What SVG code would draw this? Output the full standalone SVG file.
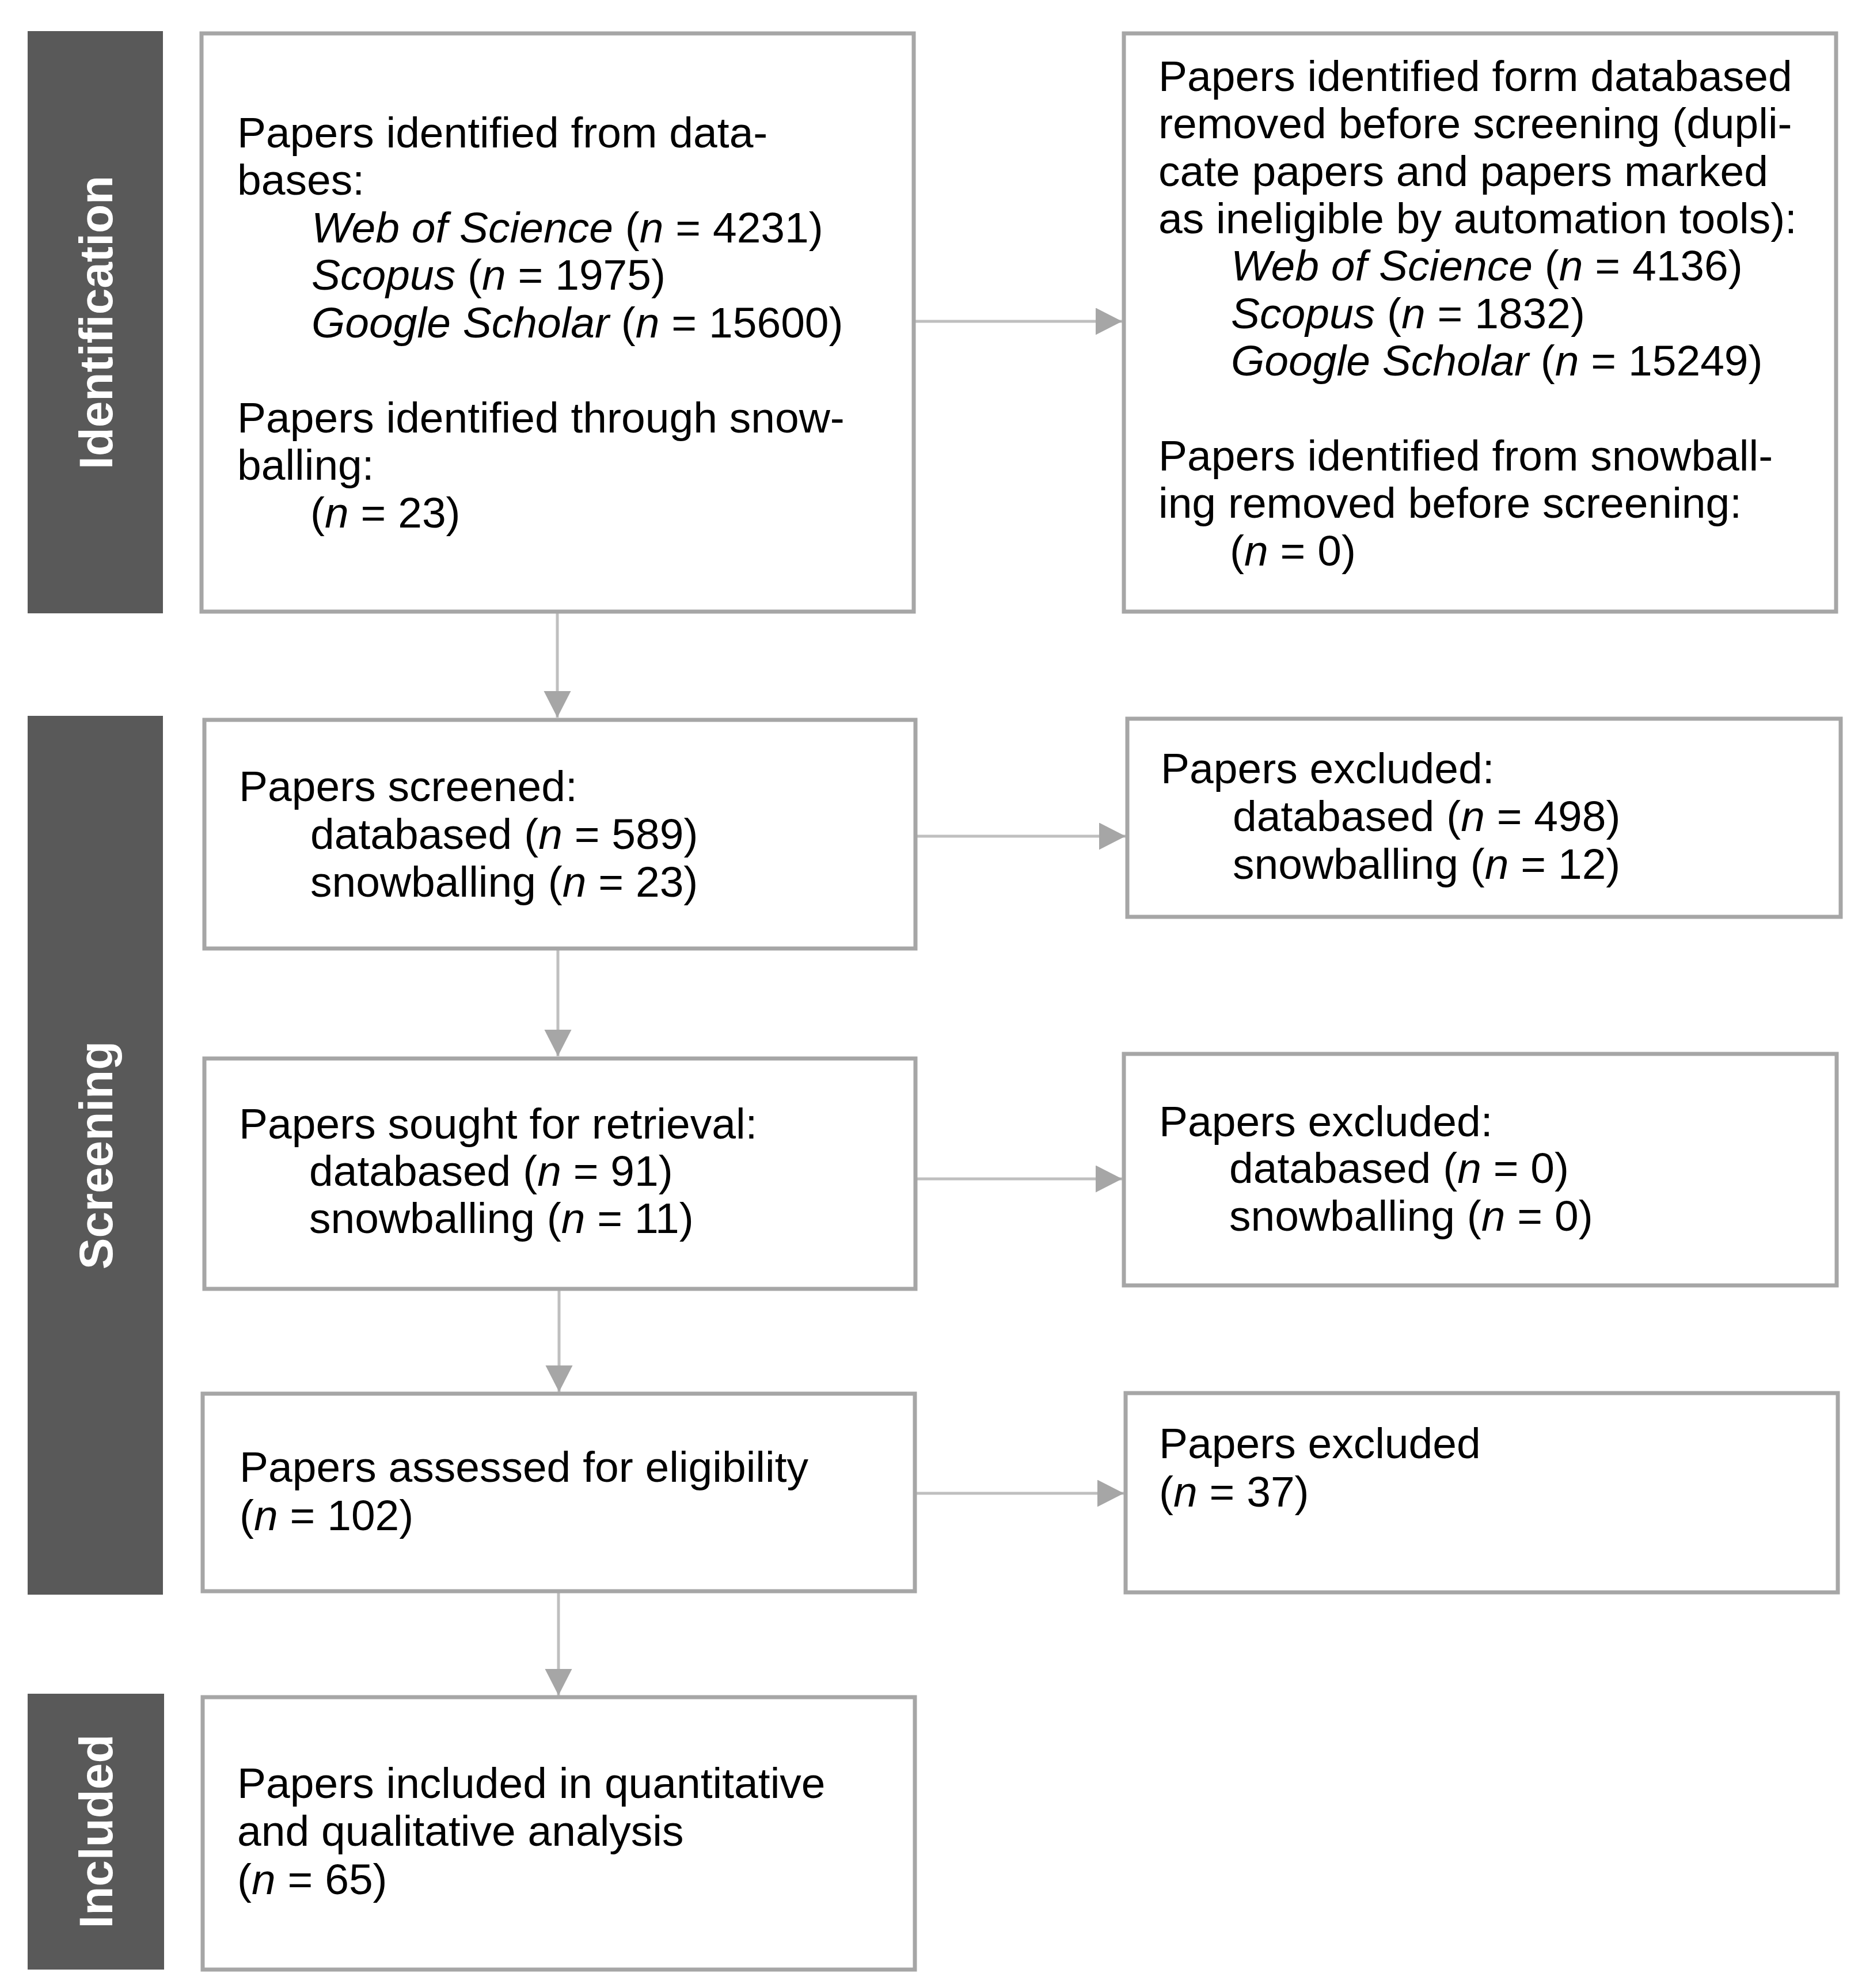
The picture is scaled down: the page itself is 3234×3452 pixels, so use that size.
<svg xmlns="http://www.w3.org/2000/svg" width="3234" height="3452" viewBox="0 0 3234 3452">
<style>
.bar{fill:#595959}
.lbl{font-family:"Liberation Sans",Arial,sans-serif;font-weight:bold;font-size:82px;fill:#ffffff;text-anchor:middle}
.box{fill:#ffffff;stroke:#a6a6a6;stroke-width:7}
.t{font-family:"Liberation Sans",Arial,sans-serif;font-size:75px;fill:#000000}
.i{font-style:italic}
.conn{stroke:#bfbfbf;stroke-width:5;fill:none}
</style>
<defs>
<marker id="ah" markerUnits="userSpaceOnUse" markerWidth="47" markerHeight="48" refX="46" refY="23.5" orient="auto">
<path d="M0,0 L46,23.5 L0,47 z" fill="#a6a6a6"/>
</marker>
</defs>
<rect width="3234" height="3452" fill="#ffffff"/>

<g id="phase-identification">
<rect class="bar" x="48" y="54" width="235" height="1011"/>
<text class="lbl" transform="translate(195,560) rotate(-90)">Identification</text>
</g>
<g id="phase-screening">
<rect class="bar" x="48" y="1243" width="235" height="1526"/>
<text class="lbl" transform="translate(195,2006) rotate(-90)">Screening</text>
</g>
<g id="phase-included">
<rect class="bar" x="48" y="2941" width="237" height="479"/>
<text class="lbl" transform="translate(195,3180) rotate(-90)">Included</text>
</g>

<g id="connectors">
<line class="conn" x1="1587" y1="558" x2="1949" y2="558" marker-end="url(#ah)"/>
<line class="conn" x1="968" y1="1062" x2="968" y2="1246" marker-end="url(#ah)"/>
<line class="conn" x1="1590" y1="1452" x2="1955" y2="1452" marker-end="url(#ah)"/>
<line class="conn" x1="969" y1="1647" x2="969" y2="1834" marker-end="url(#ah)"/>
<line class="conn" x1="1590" y1="2047" x2="1949" y2="2047" marker-end="url(#ah)"/>
<line class="conn" x1="971" y1="2238" x2="971" y2="2417" marker-end="url(#ah)"/>
<line class="conn" x1="1589" y1="2593" x2="1952" y2="2593" marker-end="url(#ah)"/>
<line class="conn" x1="970" y1="2763" x2="970" y2="2944" marker-end="url(#ah)"/>
</g>

<g id="identified">
<rect class="box" x="350" y="58" width="1237" height="1004"/>
<text class="t" x="412" y="256">Papers identified from data-</text>
<text class="t" x="412" y="338">bases:</text>
<text class="t" x="541" y="421"><tspan class="i">Web of Science</tspan> (<tspan class="i">n</tspan> = 4231)</text>
<text class="t" x="541" y="503"><tspan class="i">Scopus</tspan> (<tspan class="i">n</tspan> = 1975)</text>
<text class="t" x="541" y="586"><tspan class="i">Google Scholar</tspan> (<tspan class="i">n</tspan> = 15600)</text>
<text class="t" x="412" y="751">Papers identified through snow-</text>
<text class="t" x="412" y="833">balling:</text>
<text class="t" x="539" y="916">(<tspan class="i">n</tspan> = 23)</text>
</g>

<g id="removed">
<rect class="box" x="1952" y="58" width="1237" height="1004"/>
<text class="t" x="2012" y="158">Papers identified form databased</text>
<text class="t" x="2012" y="240">removed before screening (dupli-</text>
<text class="t" x="2012" y="323">cate papers and papers marked</text>
<text class="t" x="2012" y="405">as ineligible by automation tools):</text>
<text class="t" x="2138" y="487"><tspan class="i">Web of Science</tspan> (<tspan class="i">n</tspan> = 4136)</text>
<text class="t" x="2138" y="570"><tspan class="i">Scopus</tspan> (<tspan class="i">n</tspan> = 1832)</text>
<text class="t" x="2138" y="652"><tspan class="i">Google Scholar</tspan> (<tspan class="i">n</tspan> = 15249)</text>
<text class="t" x="2012" y="817">Papers identified from snowball-</text>
<text class="t" x="2012" y="899">ing removed before screening:</text>
<text class="t" x="2136" y="982">(<tspan class="i">n</tspan> = 0)</text>
</g>

<g id="screened">
<rect class="box" x="355" y="1250" width="1235" height="397"/>
<text class="t" x="415" y="1391">Papers screened:</text>
<text class="t" x="539" y="1474">databased (<tspan class="i">n</tspan> = 589)</text>
<text class="t" x="539" y="1557">snowballing (<tspan class="i">n</tspan> = 23)</text>
</g>

<g id="excluded-screening">
<rect class="box" x="1958" y="1248" width="1239" height="344"/>
<text class="t" x="2016" y="1360">Papers excluded:</text>
<text class="t" x="2141" y="1443">databased (<tspan class="i">n</tspan> = 498)</text>
<text class="t" x="2141" y="1526">snowballing (<tspan class="i">n</tspan> = 12)</text>
</g>

<g id="sought">
<rect class="box" x="355" y="1838" width="1235" height="400"/>
<text class="t" x="415" y="1977">Papers sought for retrieval:</text>
<text class="t" x="537" y="2059">databased (<tspan class="i">n</tspan> = 91)</text>
<text class="t" x="537" y="2141">snowballing (<tspan class="i">n</tspan> = 11)</text>
</g>

<g id="excluded-retrieval">
<rect class="box" x="1952" y="1830" width="1238" height="402"/>
<text class="t" x="2013" y="1973">Papers excluded:</text>
<text class="t" x="2135" y="2054">databased (<tspan class="i">n</tspan> = 0)</text>
<text class="t" x="2135" y="2137">snowballing (<tspan class="i">n</tspan> = 0)</text>
</g>

<g id="assessed">
<rect class="box" x="352" y="2420" width="1237" height="343"/>
<text class="t" x="416" y="2573">Papers assessed for eligibility</text>
<text class="t" x="416" y="2657">(<tspan class="i">n</tspan> = 102)</text>
</g>

<g id="excluded-eligibility">
<rect class="box" x="1955" y="2419" width="1237" height="346"/>
<text class="t" x="2013" y="2532">Papers excluded</text>
<text class="t" x="2013" y="2616">(<tspan class="i">n</tspan> = 37)</text>
</g>

<g id="included">
<rect class="box" x="352" y="2947" width="1237" height="473"/>
<text class="t" x="412" y="3122">Papers included in quantitative</text>
<text class="t" x="412" y="3205">and qualitative analysis</text>
<text class="t" x="412" y="3289">(<tspan class="i">n</tspan> = 65)</text>
</g>
</svg>
